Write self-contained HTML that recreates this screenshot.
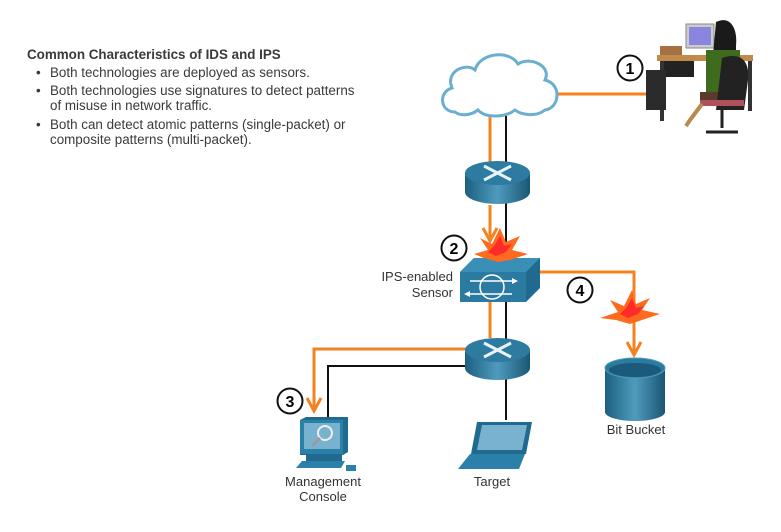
<!DOCTYPE html>
<html><head><meta charset="utf-8"><style>
body{margin:0;background:#fff;width:781px;height:527px;overflow:hidden;font-family:"Liberation Sans",Arial,sans-serif}
</style></head><body>
<svg width="781" height="527" viewBox="0 0 781 527" xmlns="http://www.w3.org/2000/svg" font-family="Liberation Sans, Arial, sans-serif">
<defs>
<linearGradient id="rg" x1="0" x2="1"><stop offset="0" stop-color="#1d5f80"/><stop offset=".5" stop-color="#4f9bbd"/><stop offset="1" stop-color="#1a5674"/></linearGradient>
</defs>
<!-- text -->
<g fill="#3a3a3a" font-size="13.4">
<text x="27" y="59" font-weight="bold">Common Characteristics of IDS and IPS</text>
<text x="36" y="77">•</text><text x="50" y="77">Both technologies are deployed as sensors.</text>
<text x="36" y="95">•</text><text x="50" y="95">Both technologies use signatures to detect patterns</text>
<text x="50" y="110">of misuse in network traffic.</text>
<text x="36" y="129">•</text><text x="50" y="129">Both can detect atomic patterns (single-packet) or</text>
<text x="50" y="144">composite patterns (multi-packet).</text>
</g>
<!-- lines -->
<g fill="none" stroke-width="3">
<path d="M558,94 H646" stroke="#f58220"/>
<path d="M490,112 V162" stroke="#f58220"/>
<path d="M506,112 V420" stroke="#111" stroke-width="2"/>
<path d="M490,205 V240" stroke="#f58220"/>
<path d="M483,228 L490,241 L497,228" stroke="#f58220"/>
<path d="M490,302 V338" stroke="#f58220"/>
<path d="M540,272 H634 V354" stroke="#f58220"/>
<path d="M627,342 L634,355 L641,342" stroke="#f58220"/>
<path d="M468,349 H314 V410" stroke="#f58220"/>
<path d="M307,398 L314,411 L321,398" stroke="#f58220"/>
<path d="M468,366 H328 V418" stroke="#111" stroke-width="2"/>
</g>
<!-- cloud -->
<path d="M455,112 C440,112 438,92 452,88 C445,72 465,62 475,70 C480,52 510,50 518,64 C530,56 552,66 545,80 C562,84 560,108 545,110 C535,118 520,114 515,110 C505,118 485,118 478,110 C470,116 460,116 455,112 Z" fill="#fff" stroke="#6aaed0" stroke-width="3"/>
<!-- router1 -->
<g>
<path d="M465,173 V192 A32.5,12 0 0 0 530,192 V173 Z" fill="url(#rg)"/>
<ellipse cx="497.5" cy="173" rx="32.5" ry="12" fill="#2d7ba0"/>
<path d="M484,166 L511,180 M511,166 L484,180" stroke="#e8f2f7" stroke-width="3"/>
</g>
<!-- router2 -->
<g>
<path d="M465,350 V368 A32.5,12 0 0 0 530,368 V350 Z" fill="url(#rg)"/>
<ellipse cx="497.5" cy="350" rx="32.5" ry="12" fill="#2d7ba0"/>
<path d="M484,343 L511,357 M511,343 L484,357" stroke="#e8f2f7" stroke-width="3"/>
</g>
<!-- sensor -->
<g>
<path d="M460,272 L474,258 H540 V288 L526,302 H460 Z" fill="#1f6a8e"/>
<path d="M460,272 L474,258 H540 L526,272 Z" fill="#3a8fb6"/>
<rect x="460" y="272" width="66" height="30" fill="#2a7aa2"/>
<path d="M470,281 H516 M466,294 H512" stroke="#fff" stroke-width="1.5"/>
<path d="M512,278 L518,281 L512,284 Z M470,291 L464,294 L470,297 Z" fill="#fff"/>
<circle cx="492" cy="287" r="12" fill="none" stroke="#fff" stroke-width="1.5"/>
</g>
<!-- explosions -->
<g>
<path d="M500,228 L506,242 L520,236 L512,250 L528,254 L510,260 L498,262 L484,258 L474,254 L488,250 L480,238 L492,244 Z" fill="#ff6a1e"/>
<path d="M500,236 L504,246 L512,244 L506,252 L496,256 L488,252 L494,246 Z" fill="#ff2a2a"/>
<path d="M632,290 L636,304 L650,298 L642,310 L660,314 L642,320 L630,324 L616,320 L600,318 L618,312 L610,300 L624,306 Z" fill="#ff6a1e"/>
<path d="M632,298 L636,308 L644,306 L638,314 L628,318 L620,314 L626,308 Z" fill="#ff2a2a"/>
</g>
<!-- bit bucket -->
<g>
<path d="M605,368 V412 A30,9 0 0 0 665,412 V368 Z" fill="url(#rg)"/>
<ellipse cx="635" cy="368" rx="30" ry="10" fill="#2b7ba0" stroke="#4d9ac0"/>
<ellipse cx="635" cy="370" rx="26" ry="7" fill="#1b5a7a"/>
</g>
<!-- console -->
<g>
<path d="M300,420 L306,417 H348 V452 L343,455 H300 Z" fill="#1f6a8e"/>
<rect x="300" y="420" width="43" height="34" fill="#2a80a8"/>
<rect x="304" y="423" width="36" height="26" fill="#79b2cf"/>
<circle cx="325" cy="433" r="7" fill="none" stroke="#eee" stroke-width="2"/>
<path d="M320,438 L312,446" stroke="#999" stroke-width="3"/>
<rect x="306" y="455" width="36" height="6" fill="#1f6a8e"/>
<path d="M296,468 L302,461 H345 L341,468 Z" fill="#2a80a8"/>
<rect x="346" y="465" width="10" height="6" fill="#2a80a8"/>
</g>
<!-- laptop -->
<g>
<path d="M477,422 H532 L526,454 H471 Z" fill="#1f6a8e"/>
<path d="M482,425 H527 L522,450 H477 Z" fill="#79b2cf"/>
<path d="M458,469 L470,454 H525 L519,469 Z" fill="#2a80a8"/>
</g>
<!-- labels -->
<g fill="#333" font-size="13" text-anchor="middle">
<text x="323" y="486">Management</text><text x="323" y="501">Console</text>
<text x="492" y="486">Target</text>
<text x="636" y="434">Bit Bucket</text>
<text x="453" y="281" text-anchor="end">IPS-enabled</text>
<text x="453" y="297" text-anchor="end">Sensor</text>
</g>
<!-- numbers -->
<g font-size="16" font-weight="bold" text-anchor="middle">
<circle cx="630" cy="68" r="12.5" fill="#fff" stroke="#111" stroke-width="2"/><text x="630" y="74">1</text>
<circle cx="454" cy="248" r="12.5" fill="#fff" stroke="#111" stroke-width="2"/><text x="454" y="254">2</text>
<circle cx="290" cy="401" r="12.5" fill="#fff" stroke="#111" stroke-width="2"/><text x="290" y="407">3</text>
<circle cx="580" cy="290" r="12.5" fill="#fff" stroke="#111" stroke-width="2"/><text x="580" y="296">4</text>
</g>
<!-- person at desk -->
<g>
<rect x="686" y="24" width="28" height="24" fill="#ccc" stroke="#888"/>
<rect x="689" y="27" width="22" height="18" fill="#8a86e0"/>
<rect x="657" y="55" width="96" height="6" fill="#c08a4a"/>
<rect x="660" y="61" width="4" height="60" fill="#333"/>
<rect x="748" y="61" width="4" height="50" fill="#333"/>
<rect x="664" y="61" width="30" height="16" fill="#222"/>
<rect x="646" y="70" width="20" height="40" fill="#2b2b2b"/>
<rect x="660" y="46" width="22" height="9" fill="#a87040"/>
<path d="M716,22 C730,15 738,28 736,46 L736,66 L712,66 Z" fill="#1a1a1a"/>
<path d="M706,50 H740 V92 H706 Z" fill="#3f6b1e"/>
<path d="M700,92 H742 L736,104 H700 Z" fill="#5a3a2a"/>
<path d="M722,58 C740,52 750,60 748,80 L744,110 H716 Z" fill="#222"/>
<path d="M700,100 H744 V106 H700 Z" fill="#b0505a"/>
<path d="M722,108 V128 M706,132 L738,132" stroke="#222" stroke-width="3"/>
<path d="M702,104 L690,120 L686,126" stroke="#b88a50" stroke-width="4" fill="none"/>
</g>
</svg>
</body></html>
